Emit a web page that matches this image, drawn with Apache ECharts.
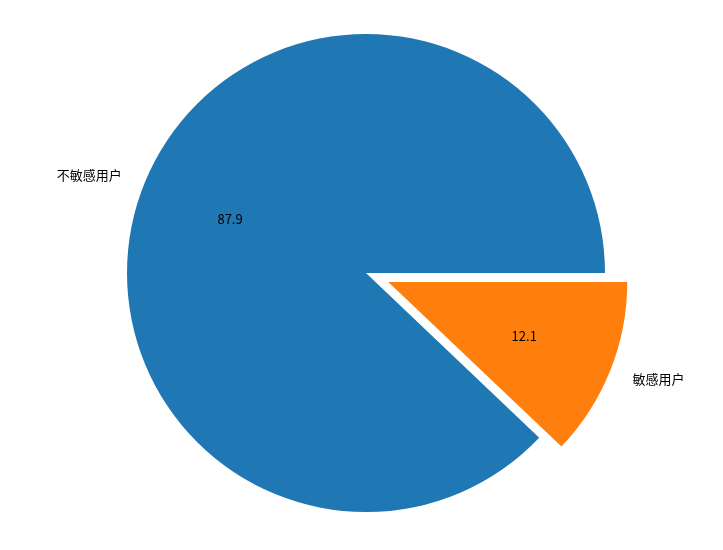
<!DOCTYPE html>
<html>
<head>
    <meta charset="utf-8">
    <title>ECharts</title>
    <script type="text/javascript" src="https://cdn.jsdelivr.net/npm/echarts@6/dist/echarts.min.js"></script>
    <style>
        html, body { margin: 0; padding: 0; background: #fff; }
    </style>
</head>
<body>
	<div id="main" style="height:550px; width:723px;"></div>
	<script type="text/javascript">
	var names = ['不敏感用户', '敏感用户'];
	var values = [87.9, 12.1];
	var colors = ['#1f77b4', '#ff7f0e'];
	var exploded = [false, true];

	var myChart = echarts.init(document.getElementById('main'));
	var R = 239;
	var center = [366, 273];
	var font = '"Noto Sans CJK SC", "Noto Sans", sans-serif';

	var buildData = function(transparent) {
		return names.map(function(n, k) {
			return {
				name: n,
				value: values[k],
				selected: exploded[k],
				itemStyle: {color: transparent ? 'rgba(0,0,0,0)' : colors[k]}
			};
		});
	};

	var base = {
		type: 'pie',
		center: center,
		startAngle: 0,
		clockwise: false,
		selectedMode: 'multiple',
		selectedOffset: 24,
		avoidLabelOverlap: false,
		animation: false,
		silent: true,
		emphasis: {disabled: true},
		select: {itemStyle: {borderWidth: 0}},
		itemStyle: {borderWidth: 0}
	};

	var option = {
		backgroundColor: '#fff',
		series: [
			// slices with names outside
			Object.assign({}, base, {
				radius: [0, R],
				data: buildData(false),
				label: {
					show: true,
					position: 'outside',
					formatter: '{b}',
					fontFamily: font,
					fontSize: 13,
					color: '#000',
					distanceToLabelLine: 0
				},
				labelLine: {show: false, length: 24, length2: 0}
			}),
			// transparent copy holding the value labels at 0.6r
			Object.assign({}, base, {
				radius: [R * 0.2, R],
				data: buildData(true),
				label: {
					show: true,
					position: 'inside',
					formatter: function(p) { return p.value.toFixed(1); },
					fontFamily: font,
					fontSize: 13,
					color: '#000'
				},
				labelLine: {show: false}
			})
		]
	};
	myChart.setOption(option);
	</script>
</body>
</html>
